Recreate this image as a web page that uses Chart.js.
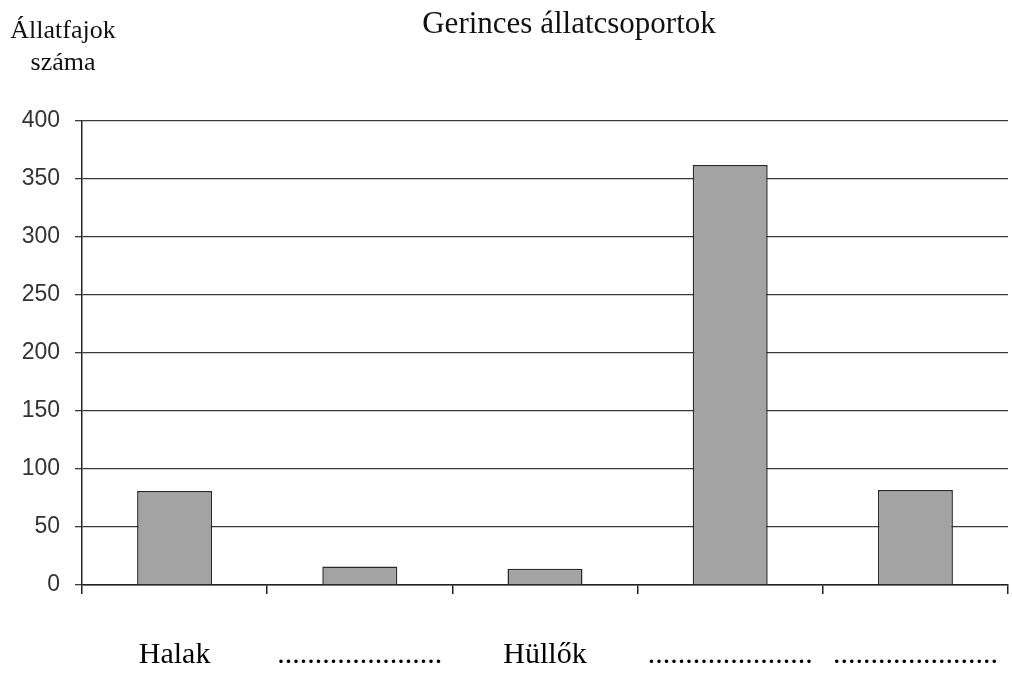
<!DOCTYPE html>
<html>
<head>
<meta charset="utf-8">
<script src="https://cdn.jsdelivr.net/npm/chart.js@4/dist/chart.umd.min.js"></script>
<style>
    html, body { margin: 0; padding: 0; background: #fff; }
    #wrap { width: 1012px; height: 675px; }
</style>
</head>
<body>
<div id="wrap"><canvas id="chart" width="1012" height="675"></canvas></div>
<script>
// adatok
const categories = ["Halak", "......................", "Hüllők", "......................", "......................"];
const speciesCount = [81, 16, 14, 362, 82];
const yTicks = [0, 50, 100, 150, 200, 250, 300, 350, 400];

const chartTitle = "Gerinces állatcsoportok";
const yAxisTitle = ["Állatfajok", "száma"];

// feliratok a grafikon fölött
const textPlugin = {
    id: "extraText",
    afterDraw(chart) {
        const ctx = chart.ctx;
        ctx.save();
        ctx.fillStyle = "#111";
        ctx.textBaseline = "alphabetic";
        ctx.textAlign = "center";
        ctx.font = "31px 'Liberation Serif', 'Times New Roman', serif";
        ctx.fillText(chartTitle, 569, 33);
        ctx.font = "26px 'Liberation Serif', 'Times New Roman', serif";
        ctx.fillText(yAxisTitle[0], 63, 38);
        ctx.fillText(yAxisTitle[1], 63, 70);
        ctx.restore();
    }
};

new Chart(document.getElementById("chart").getContext("2d"), {
    type: "bar",
    data: {
        labels: categories,
        datasets: [{
            data: speciesCount,
            backgroundColor: "#a3a3a3",
            borderColor: "#2a2a2a",
            borderWidth: 1.5,
            barPercentage: 0.81,
            categoryPercentage: 0.5
        }]
    },
    options: {
        responsive: false,
        animation: false,
        layout: { padding: { top: 121, right: 4, left: 0, bottom: 0 } },
        plugins: {
            legend: { display: false },
            tooltip: { enabled: false }
        },
        scales: {
            y: {
                min: 0,
                max: 400,
                afterBuildTicks: (scale) => { scale.ticks = yTicks.map(v => ({ value: v })); },
                afterFit: (scale) => { scale.width = 82; scale.paddingTop = 0; scale.paddingBottom = 0; },
                ticks: {
                    color: "#333",
                    padding: 15,
                    font: { family: "'Liberation Sans', Arial, sans-serif", size: 23 }
                },
                grid: { color: "#3a3a3a", lineWidth: 1.3, tickLength: 7 },
                border: { color: "#222", width: 1.5 }
            },
            x: {
                afterFit: (scale) => { scale.height = 90; scale.paddingLeft = 0; scale.paddingRight = 0; },
                ticks: {
                    color: "#000",
                    padding: 43,
                    font: { family: "'Liberation Serif', 'Times New Roman', serif", size: 30 }
                },
                grid: { drawOnChartArea: false, color: "#222", lineWidth: 1.5, tickLength: 9, offset: true },
                border: { color: "#222", width: 1.5 }
            }
        }
    },
    plugins: [textPlugin]
});
</script>
</body>
</html>
